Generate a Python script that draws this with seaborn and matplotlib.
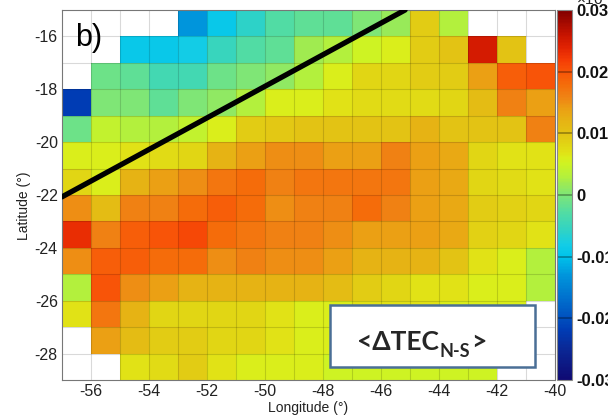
import numpy as np
import pandas as pd
import matplotlib
matplotlib.use("Agg")
import matplotlib.pyplot as plt
import seaborn as sns
from matplotlib.colors import LinearSegmentedColormap
from matplotlib.ticker import MultipleLocator
from matplotlib.patches import Rectangle

# ---------------- data ----------------
lon_centers = [-56.5, -55.5, -54.5, -53.5, -52.5, -51.5, -50.5, -49.5, -48.5,
               -47.5, -46.5, -45.5, -44.5, -43.5, -42.5, -41.5, -40.5]
lat_centers = [-15.5, -16.5, -17.5, -18.5, -19.5, -20.5, -21.5,
               -22.5, -23.5, -24.5, -25.5, -26.5, -27.5, -28.5]
nan = np.nan
lat_15_5 = [nan, nan, nan, nan, -0.013, -0.009, -0.006, -0.003, -0.002, -0.002, 0.000, 0.0015, 0.009, 0.003, nan, nan, nan]
lat_16_5 = [nan, nan, -0.009, -0.009, -0.008, -0.005, -0.003, -0.002, 0.002, 0.003, 0.005, 0.006, 0.009, 0.010, 0.025, 0.010, nan]
lat_17_5 = [nan, -0.001, -0.002, -0.004, -0.004, -0.001, 0.000, 0.001, 0.003, 0.006, 0.008, 0.008, 0.009, 0.009, 0.014, 0.019, 0.020]
lat_18_5 = [-0.022, 0.000, 0.000, -0.002, 0.000, 0.001, 0.003, 0.006, 0.006, 0.007, 0.0075, 0.0075, 0.0075, 0.008, 0.011, 0.016, 0.014]
lat_19_5 = [-0.001, 0.004, 0.003, 0.003, 0.004, 0.006, 0.009, 0.0095, 0.010, 0.010, 0.010, 0.010, 0.012, 0.010, 0.010, 0.010, 0.016]
lat_20_5 = [0.006, 0.006, 0.007, 0.0075, 0.008, 0.012, 0.014, 0.015, 0.015, 0.014, 0.014, 0.016, 0.014, 0.013, 0.008, 0.007, 0.007]
lat_21_5 = [0.008, 0.006, 0.012, 0.014, 0.015, 0.017, 0.018, 0.016, 0.017, 0.017, 0.017, 0.017, 0.014, 0.013, 0.008, 0.0075, 0.007]
lat_22_5 = [0.015, 0.011, 0.016, 0.016, 0.018, 0.019, 0.018, 0.015, 0.016, 0.016, 0.018, 0.016, 0.014, 0.013, 0.009, 0.0085, 0.008]
lat_23_5 = [0.023, 0.016, 0.019, 0.020, 0.021, 0.018, 0.017, 0.016, 0.016, 0.015, 0.014, 0.014, 0.014, 0.013, 0.0085, 0.008, 0.007]
lat_24_5 = [0.015, 0.019, 0.019, 0.018, 0.018, 0.015, 0.016, 0.015, 0.015, 0.014, 0.012, 0.012, 0.012, 0.010, 0.007, 0.006, 0.003]
lat_25_5 = [0.003, 0.020, 0.015, 0.014, 0.012, 0.012, 0.012, 0.012, 0.012, 0.011, 0.009, 0.008, 0.007, 0.007, 0.006, 0.006, 0.003]
lat_26_5 = [0.007, 0.017, 0.012, 0.008, 0.008, 0.008, 0.008, 0.007, 0.006, 0.006, 0.007, 0.007, 0.007, 0.006, 0.006, 0.006, nan]
lat_27_5 = [nan, 0.014, 0.011, 0.009, 0.009, 0.008, 0.008, 0.007, 0.006, 0.006, 0.006, 0.006, 0.006, 0.006, 0.006, nan, nan]
lat_28_5 = [nan, nan, 0.007, 0.0075, 0.009, 0.007, 0.006, 0.006, 0.006, 0.005, 0.005, 0.005, 0.005, 0.005, 0.005, nan, nan]

x_tick_values = [-56, -54, -52, -50, -48, -46, -44, -42, -40]
y_tick_values = [-16, -18, -20, -22, -24, -26, -28]
cbar_tick_values = [-0.03, -0.02, -0.01, 0.0, 0.01, 0.02, 0.03]
cbar_tick_labels = ["-0.03", "-0.02", "-0.01", "0", "0.01", "0.02", "0.03"]

# separator line drawn on the map
line_lon = [-57.0, -45.17]
line_lat = [-22.07, -15.0]

panel_label = "b)"

# ---------------- colormap (ROOT-like rainbow) ----------------
cmap_nodes = [
    (-0.030, (15, 10, 115)), (-0.025, (10, 40, 150)), (-0.022, (0, 60, 180)),
    (-0.018, (0, 100, 200)), (-0.013, (0, 150, 220)), (-0.010, (0, 195, 235)),
    (-0.008, (20, 205, 230)), (-0.006, (45, 210, 200)), (-0.003, (80, 220, 165)),
    (-0.001, (110, 226, 135)), (0.000, (125, 230, 120)), (0.002, (160, 235, 80)),
    (0.003, (180, 240, 60)), (0.005, (205, 243, 35)), (0.006, (218, 238, 27)),
    (0.007, (225, 225, 22)), (0.008, (225, 215, 20)), (0.009, (226, 205, 20)),
    (0.010, (227, 195, 20)), (0.012, (230, 180, 20)), (0.014, (235, 160, 20)),
    (0.016, (240, 130, 20)), (0.018, (245, 108, 10)), (0.020, (248, 85, 8)),
    (0.022, (245, 60, 5)), (0.024, (225, 35, 2)), (0.026, (200, 20, 0)),
    (0.030, (130, 0, 0)),
]
vmin, vmax = -0.03, 0.03
cmap = LinearSegmentedColormap.from_list(
    "rootrainbow",
    [((v - vmin) / (vmax - vmin), tuple(c / 255 for c in col)) for v, col in cmap_nodes])
cmap.set_bad("white")

# ---------------- figure ----------------
sns.set_style("white")
plt.rcParams["font.family"] = ["Liberation Sans", "DejaVu Sans"]

W, H = 608, 420
fig = plt.figure(figsize=(W / 100, H / 100), dpi=100)
fig.patch.set_facecolor("white")


def fx(px):
    return px / W


def fy(py):
    return 1 - py / H


ax = fig.add_axes([fx(62), fy(380), (555 - 62) / W, (380 - 10) / H])
cax = fig.add_axes([fx(557), fy(380), 15 / W, 370 / H])

rows = [lat_15_5, lat_16_5, lat_17_5, lat_18_5, lat_19_5, lat_20_5, lat_21_5,
        lat_22_5, lat_23_5, lat_24_5, lat_25_5, lat_26_5, lat_27_5, lat_28_5]
df = pd.DataFrame(np.array(rows, dtype=float), index=lat_centers, columns=lon_centers)

sns.heatmap(df, ax=ax, cbar_ax=cax, cmap=cmap, vmin=vmin, vmax=vmax,
            cbar=True, xticklabels=False, yticklabels=False)

# heatmap index space: x = lon + 57, y = -15 - lat
lon0, lat0 = -57.0, -15.0
ax.set_xlim(0, 17)
ax.set_ylim(14, 0)

for i in range(1, 17):
    ax.axvline(i, color=(0, 0, 0, 0.15), lw=0.8, zorder=2)
for j in range(1, 14):
    ax.axhline(j, color=(0, 0, 0, 0.15), lw=0.8, zorder=2)

ax.plot([v - lon0 for v in line_lon], [lat0 - v for v in line_lat],
        color="black", lw=3.8, solid_capstyle="round", zorder=4)

ax.set_xticks([v - lon0 for v in x_tick_values])
ax.set_xticklabels([str(v) for v in x_tick_values])
ax.set_yticks([lat0 - v for v in y_tick_values])
ax.set_yticklabels([str(v) for v in y_tick_values])
ax.xaxis.set_minor_locator(MultipleLocator(0.5))
ax.yaxis.set_minor_locator(MultipleLocator(0.5))
ax.tick_params(which="both", direction="in", top=True, right=True,
               bottom=True, left=True, color="#666666", width=0.7)
ax.tick_params(which="major", length=7, labelsize=11.5, labelcolor="#222222", pad=3)
ax.tick_params(which="minor", length=3.5)
for lab in ax.get_xticklabels() + ax.get_yticklabels():
    lab.set_rotation(0)
for s in ax.spines.values():
    s.set_visible(True)
    s.set_color("#777777")
    s.set_linewidth(0.8)

ax.set_xlabel("Longitude (°)", fontsize=10, color="#222222")
ax.set_ylabel("Latitude (°)", fontsize=10, color="#222222")
ax.xaxis.set_label_coords(0.5, -0.058)
ax.yaxis.set_label_coords(-0.062, 0.47)

ax.text(0.026, 0.925, panel_label, transform=ax.transAxes, fontsize=22,
        color="black", va="center", ha="left", zorder=6)

# boxed annotation
ax.add_patch(Rectangle(((330 - 62) / 493, (380 - 367) / 370),
                       (535 - 330) / 493, (367 - 305) / 370,
                       transform=ax.transAxes, facecolor="white",
                       edgecolor="#4a6f96", lw=1.8, zorder=5, clip_on=False))

# colorbar
cb = ax.collections[0].colorbar
cb.outline.set_visible(True)
cb.outline.set_linewidth(0.8)
cb.outline.set_edgecolor("#888888")
cb.set_ticks(cbar_tick_values)
cb.set_ticklabels(cbar_tick_labels)
cax.tick_params(length=0, labelsize=12, pad=3)
for lab in cax.get_yticklabels():
    lab.set_fontweight("bold")
    lab.set_color("#111111")
for v in cbar_tick_values[1:-1]:
    cax.axhline(v, color=(0, 0, 0, 0.35), lw=1.2)

fig.text(fx(576), fy(-1), "×10$^{-3}$", fontsize=11, color="#222222",
         va="center", ha="left")

# annotation text pieces
fig.canvas.draw()
rend = fig.canvas.get_renderer()
tfam = ["Lato", "DejaVu Sans"]
t1 = fig.text(fx(357), fy(350), "<ΔTEC", fontsize=19, fontweight="bold",
              family=tfam, va="baseline", ha="left", zorder=10)
b1 = t1.get_window_extent(rend)
t2 = fig.text(b1.x1 / W + 0.001, fy(357), "N-S", fontsize=13, fontweight="bold",
              family=tfam, va="baseline", ha="left", zorder=10)
b2 = t2.get_window_extent(rend)
t3 = fig.text(b2.x1 / W + 0.001, fy(350), ">", fontsize=19, fontweight="bold",
              family=tfam, va="baseline", ha="left", zorder=10)

fig.savefig("out.png", dpi=100)
